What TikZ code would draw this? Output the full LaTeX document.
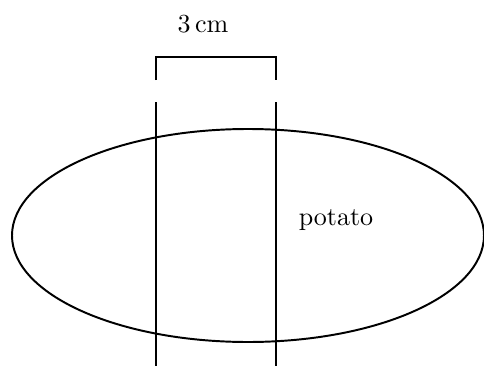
\documentclass[tikz,border=0pt]{standalone}
\usepackage{tikz}
\usetikzlibrary{positioning, calc}

\begin{document}
\begin{tikzpicture}[
    x=0.0135cm, y=-0.0135cm,
    line width=0.75pt,
    lbl/.style={inner sep=0pt, anchor=base, font=\normalsize},
    cut/.style={line width=0.75pt}
]
    \useasboundingbox (0,0) rectangle (484,366);

    % Potato
    \draw (248,235.5) ellipse [x radius=236, y radius=106.5];
    \node[lbl] (potato) at (336,225) {potato};

    % Cut lines
    \coordinate (l1) at (156,102);
    \coordinate (l2) at (156,366);
    \coordinate (r1) at (276,102);
    \coordinate (r2) at (276,366);
    \draw[cut] (l1) -- (l2);
    \draw[cut] (r1) -- (r2);

    % Width bracket
    \coordinate (bl) at (156,80);
    \coordinate (br) at (276,80);
    \draw[cut] (bl) -- ++(0,-23) -| (br);
    \node[lbl] (width) at (203,32) {3\,cm};
\end{tikzpicture}
\end{document}
